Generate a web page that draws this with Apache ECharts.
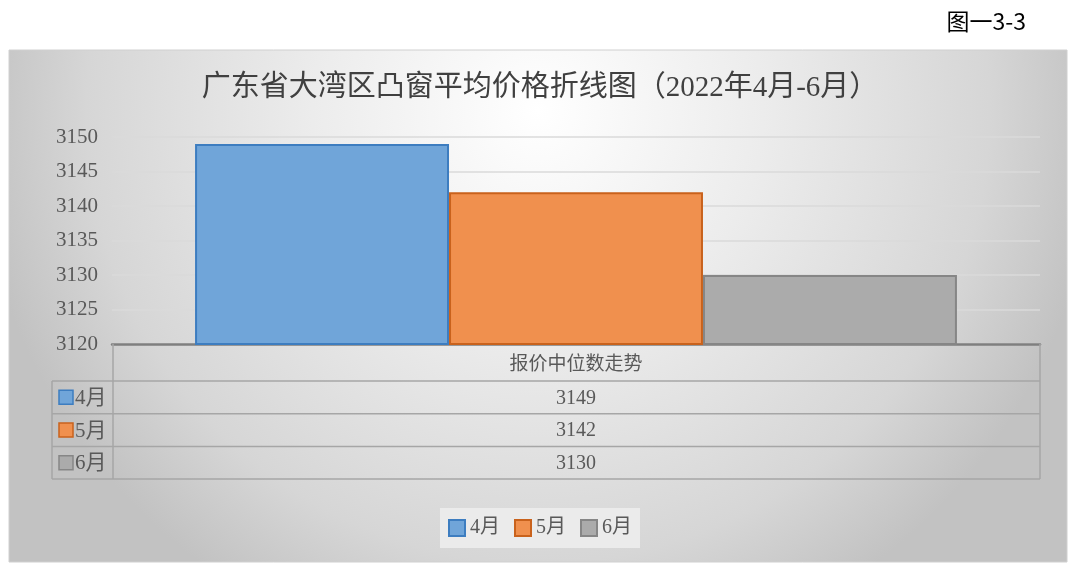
<!DOCTYPE html>
<html>
<head>
<meta charset="utf-8">
<script src="https://cdn.jsdelivr.net/npm/echarts@6/dist/echarts.min.js"></script>
<style>
html,body{margin:0;padding:0;background:#fff;}
#c{width:1080px;height:570px;}
</style>
</head>
<body>
<div id="c"></div>
<script>
var categories = ['报价中位数走势'];
var seriesNames = ['4月', '5月', '6月'];
var values = [3149, 3142, 3130];
var yTicks = { min: 3120, max: 3150, interval: 5 };
var titleText = '广东省大湾区凸窗平均价格折线图（2022年4月-6月）';
var figLabel = '图一3-3';

var fills = ['#70a5d9', '#f0904e', '#ababab'];
var borders = ['#3d7dc0', '#c9621c', '#868686'];
var serifFont = "'Liberation Serif','Noto Sans CJK SC',serif";
var textGray = '#595959';

// layout
var gridL = 112, gridR = 1040, gridT = 137, axisY = 344;
var tblLeft = 52, headerBottom = 381, rowH = 32.7;

var chart = echarts.init(document.getElementById('c'), null, {renderer: 'canvas'});

var series = seriesNames.map(function (n, i) {
  return {
    name: n,
    type: 'bar',
    data: [values[i]],
    barGap: '0%',
    barCategoryGap: '17.9%',
    itemStyle: { color: fills[i], borderColor: borders[i], borderWidth: 2 },
    z: 3
  };
});

var els = [];
// chart background
els.push({
  type: 'rect', z: -10, silent: true,
  shape: { x: 9, y: 50, width: 1058, height: 512 },
  style: {
    fill: new echarts.graphic.RadialGradient(0.5, 0.12, 1.1, [
      { offset: 0, color: '#ffffff' },
      { offset: 0.4, color: '#ececec' },
      { offset: 0.8, color: '#d6d6d6' },
      { offset: 1, color: '#c2c2c2' }
    ]),
    stroke: '#d0d0d0', lineWidth: 1
  }
});
// figure label
els.push({
  type: 'text', z: 10,
  style: { text: figLabel, x: 1026, y: 21, textAlign: 'right', textVerticalAlign: 'middle',
    font: "23px 'Noto Sans CJK SC', sans-serif", fill: '#000' }
});
// table lines
var tableBottom = headerBottom + rowH * seriesNames.length;
var lineStyle = { stroke: '#a6a6a6', lineWidth: 1.5 };
function addLine(x1, y1, x2, y2) {
  els.push({ type: 'line', z: 5, silent: true, shape: { x1: x1, y1: y1, x2: x2, y2: y2 }, style: lineStyle });
}
addLine(gridL + 1, axisY, gridL + 1, tableBottom);
addLine(gridR, axisY, gridR, tableBottom);
addLine(tblLeft, headerBottom, tblLeft, tableBottom);
for (var r = 0; r <= seriesNames.length; r++) {
  addLine(tblLeft, headerBottom + r * rowH, gridR, headerBottom + r * rowH);
}
// table rows
seriesNames.forEach(function (n, i) {
  var cy = headerBottom + rowH * i + rowH / 2;
  els.push({ type: 'rect', z: 6, silent: true,
    shape: { x: 59, y: cy - 7, width: 14, height: 14 },
    style: { fill: fills[i], stroke: borders[i], lineWidth: 1.5 } });
  els.push({ type: 'text', z: 6,
    style: { text: n, x: 75, y: cy + 1, textAlign: 'left', textVerticalAlign: 'middle',
      font: '21px ' + serifFont, fill: textGray } });
  els.push({ type: 'text', z: 6,
    style: { text: String(values[i]), x: (gridL + gridR) / 2, y: cy + 1, textAlign: 'center', textVerticalAlign: 'middle',
      font: '20px ' + serifFont, fill: textGray } });
});

chart.setOption({
  animation: false,
  title: {
    text: titleText, left: 'center', top: 69,
    textStyle: { fontFamily: serifFont, fontSize: 29, fontWeight: 'normal', color: '#404040' }
  },
  legend: {
    data: seriesNames,
    left: 'center', top: 508,
    itemWidth: 16, itemHeight: 16, itemGap: 14,
    padding: [10, 8, 10, 8],
    backgroundColor: '#ebebeb',
    icon: 'rect',
    textStyle: { fontFamily: serifFont, fontSize: 20, color: textGray }
  },
  grid: { left: gridL, right: 1080 - gridR, top: gridT, bottom: 570 - axisY, containLabel: false },
  xAxis: {
    type: 'category',
    data: categories,
    axisLine: { show: true, lineStyle: { color: '#7f7f7f', width: 2.5 } },
    axisTick: { show: false },
    axisLabel: { margin: 12, fontFamily: serifFont, fontSize: 19, color: textGray }
  },
  yAxis: {
    type: 'value',
    min: yTicks.min, max: yTicks.max, interval: yTicks.interval,
    axisLine: { show: false },
    axisTick: { show: false },
    axisLabel: { margin: 14, fontFamily: serifFont, fontSize: 21, color: textGray,
      formatter: function (v) { return String(v); } },
    splitLine: { lineStyle: { color: '#dadada', width: 1.5 } }
  },
  graphic: { elements: els },
  series: series
});
</script>
</body>
</html>
